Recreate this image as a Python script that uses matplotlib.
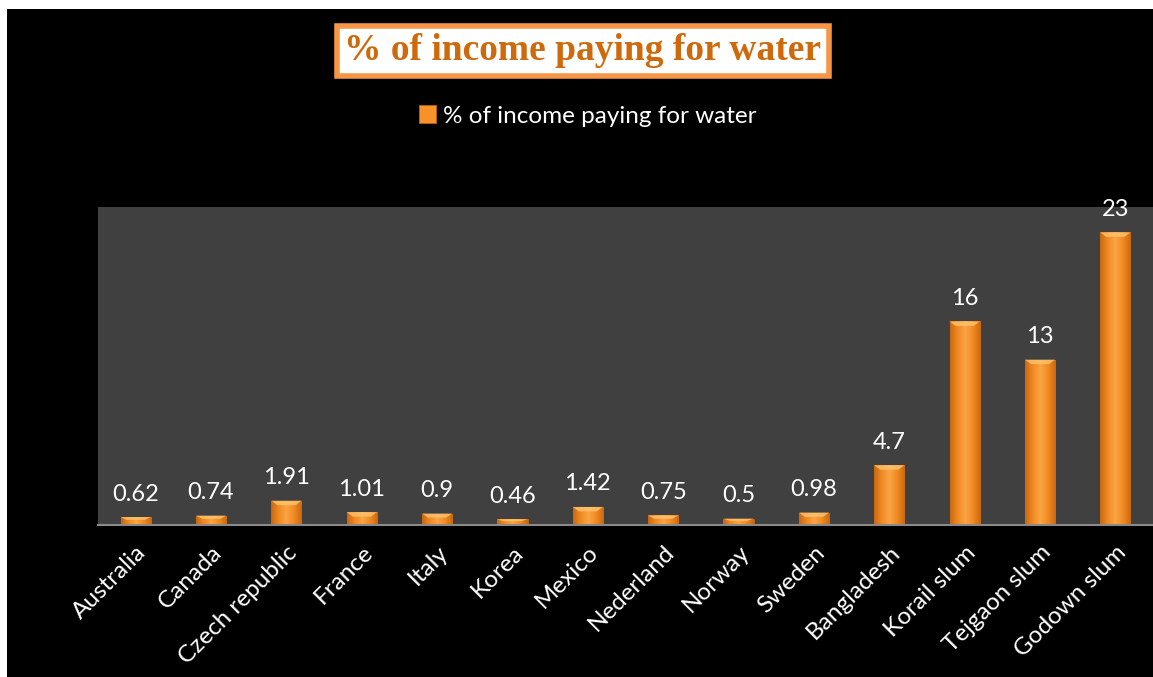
import matplotlib
matplotlib.use("Agg")
import matplotlib.pyplot as plt
import numpy as np
from matplotlib.patches import Rectangle
from matplotlib.colors import LinearSegmentedColormap

categories = ["Australia", "Canada", "Czech republic", "France", "Italy", "Korea",
              "Mexico", "Nederland", "Norway", "Sweden", "Bangladesh",
              "Korail slum", "Tejgaon slum", "Godown slum"]
values = [0.62, 0.74, 1.91, 1.01, 0.9, 0.46, 1.42, 0.75, 0.5, 0.98, 4.7, 16, 13, 23]
series_name = "% of income paying for water"
title = "% of income paying for water"

W, H = 1153, 677
fig = plt.figure(figsize=(W / 100, H / 100), dpi=100, facecolor="black")

# white strips at top and left (as in the screenshot)
fig.patches.append(Rectangle((0, 1 - 9 / H), 1, 9 / H, transform=fig.transFigure,
                             facecolor="white", edgecolor="none", zorder=0))
fig.patches.append(Rectangle((0, 0), 7 / W, 1, transform=fig.transFigure,
                             facecolor="white", edgecolor="none", zorder=0))

ax = fig.add_axes([98 / W, 1 - 525 / H, 1 - 98 / W, (525 - 207) / H])
ax.set_facecolor("#404040")
x = np.arange(len(categories))
bars = ax.bar(x, values, width=0.4, color="#f7922a", edgecolor="#b8620f",
              linewidth=0.6, zorder=2, label=series_name)

# horizontal gradient inside each bar
cmap = LinearSegmentedColormap.from_list(
    "og", ["#c9670f", "#f08a22", "#fba545", "#f08a22", "#c9670f"])
grad = np.linspace(0, 1, 256).reshape(1, -1)
for b in bars:
    bx, by, bw, bh = b.get_x(), b.get_y(), b.get_width(), b.get_height()
    im = ax.imshow(grad, cmap=cmap, extent=[bx, bx + bw, by, by + bh],
                   aspect="auto", zorder=3, interpolation="bicubic")
    im.set_clip_path(b)
    # lighter top bevel
    d = min(bh * 0.35, 0.35)
    ax.fill([bx, bx + bw, bx + bw * 0.8, bx + bw * 0.2],
            [by + bh, by + bh, by + bh - d, by + bh - d],
            color="#ffc46e", alpha=0.8, zorder=4, lw=0)

ax.set_xlim(-0.5, len(categories) - 0.5)
ax.set_ylim(0, 25)
ax.set_yticks([])
for s in ["top", "right", "left"]:
    ax.spines[s].set_visible(False)
ax.spines["bottom"].set_color("#8a8a8a")
ax.spines["bottom"].set_linewidth(1.5)
ax.spines["bottom"].set_zorder(5)

ax.set_xticks(x)
ax.set_xticklabels(categories, rotation=45, ha="right", rotation_mode="anchor",
                   color="white", fontsize=17.5, family="Lato")
ax.tick_params(axis="x", length=0, pad=12)

ax.bar_label(bars, labels=[f"{v:g}" for v in values], padding=9, color="white",
             fontsize=17, family="Lato", zorder=6)

fig.text(583 / W, 1 - 51 / H, title, ha="center", va="center",
         family="Liberation Serif", fontweight="bold", fontsize=27, color="#cf6a0c",
         bbox=dict(boxstyle="square,pad=0.2", facecolor="white", edgecolor="#f79646",
                   linewidth=4))

fig.legend(handles=[bars], labels=[series_name], loc="center",
           bbox_to_anchor=(588 / W, 1 - 116 / H), frameon=False,
           labelcolor="white", prop={"family": "Lato", "size": 17.5},
           handlelength=0.7, handleheight=0.7, handletextpad=0.3)

fig.savefig("out.png", dpi=100, facecolor="black")
